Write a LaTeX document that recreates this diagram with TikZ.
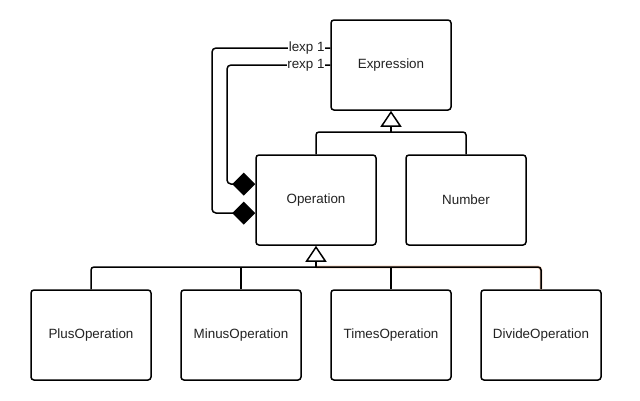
\documentclass[tikz,border=0pt]{standalone}
\usepackage{fontspec}
\setmainfont{Liberation Sans}
\usetikzlibrary{arrows.meta}
\definecolor{txt}{HTML}{222222}
\definecolor{halo}{HTML}{EFC8B0}
\tikzset{
  cls/.style={draw=black, line width=1.5pt, rounded corners=3pt, fill=white,
    minimum width=120pt, minimum height=90pt, inner sep=0pt,
    font=\fontsize{13.4}{15}\selectfont, text=txt},
  conn/.style={draw=black, line width=1.5pt},
  inh/.style={conn, -{Triangle[open, length=16pt, width=21pt, fill=white]}},
  comp/.style={conn, rounded corners=4pt, {Diamond[length=23pt, width=23pt]}-},
  rolelbl/.style={fill=white, inner sep=0.5pt, anchor=east,
    font=\fontsize{13.4}{15}\selectfont, text=txt}
}
\begin{document}
\begin{tikzpicture}[x=1pt, y=-1pt]
\useasboundingbox (0,0) rectangle (640,400);

\node[cls] (expr)  at (391,65)  {Expression};
\node[cls] (op)    at (316,200) {Operation};
\node[cls] (num)   at (466,200) {Number};
\node[cls] (plus)  at (91,335)  {PlusOperation};
\node[cls] (minus) at (241,335) {MinusOperation};
\node[cls] (times) at (391,335) {TimesOperation};
\node[cls] (div)   at (541,335) {DivideOperation};

% inheritance Operation/Number -> Expression
\coordinate (j1) at (391,132);
\draw[conn, rounded corners=3pt] (op.north) |- (j1) -| (num.north);
\draw[inh] (j1) -- (expr.south);

% inheritance subclasses -> Operation
\coordinate (j2) at (316,267);
\draw[halo, line width=2.6pt, rounded corners=3pt] (j2) -| (div.north);
\draw[conn, rounded corners=3pt] (plus.north) |- (j2) -| (div.north);
\draw[conn] (minus.north) -- (minus.north |- j2);
\draw[conn] (times.north) -- (times.north |- j2);
\draw[inh] (j2) -- (op.south);

% compositions
\coordinate (lx) at (212,0);
\coordinate (rx) at (227,0);
\coordinate (lend) at ([yshift=17pt]expr.west);
\coordinate (rend) at (expr.west);
\draw[comp] ([yshift=-13pt]op.west) -| (lx |- lend) -- (lend);
\draw[comp] ([yshift=16pt]op.west) -| (rx |- rend) -- (rend);
\node[rolelbl] (llbl) at ([xshift=-5pt]lend) {lexp 1};
\node[rolelbl] (rlbl) at ([xshift=-5pt]rend) {rexp 1};
\end{tikzpicture}
\end{document}
